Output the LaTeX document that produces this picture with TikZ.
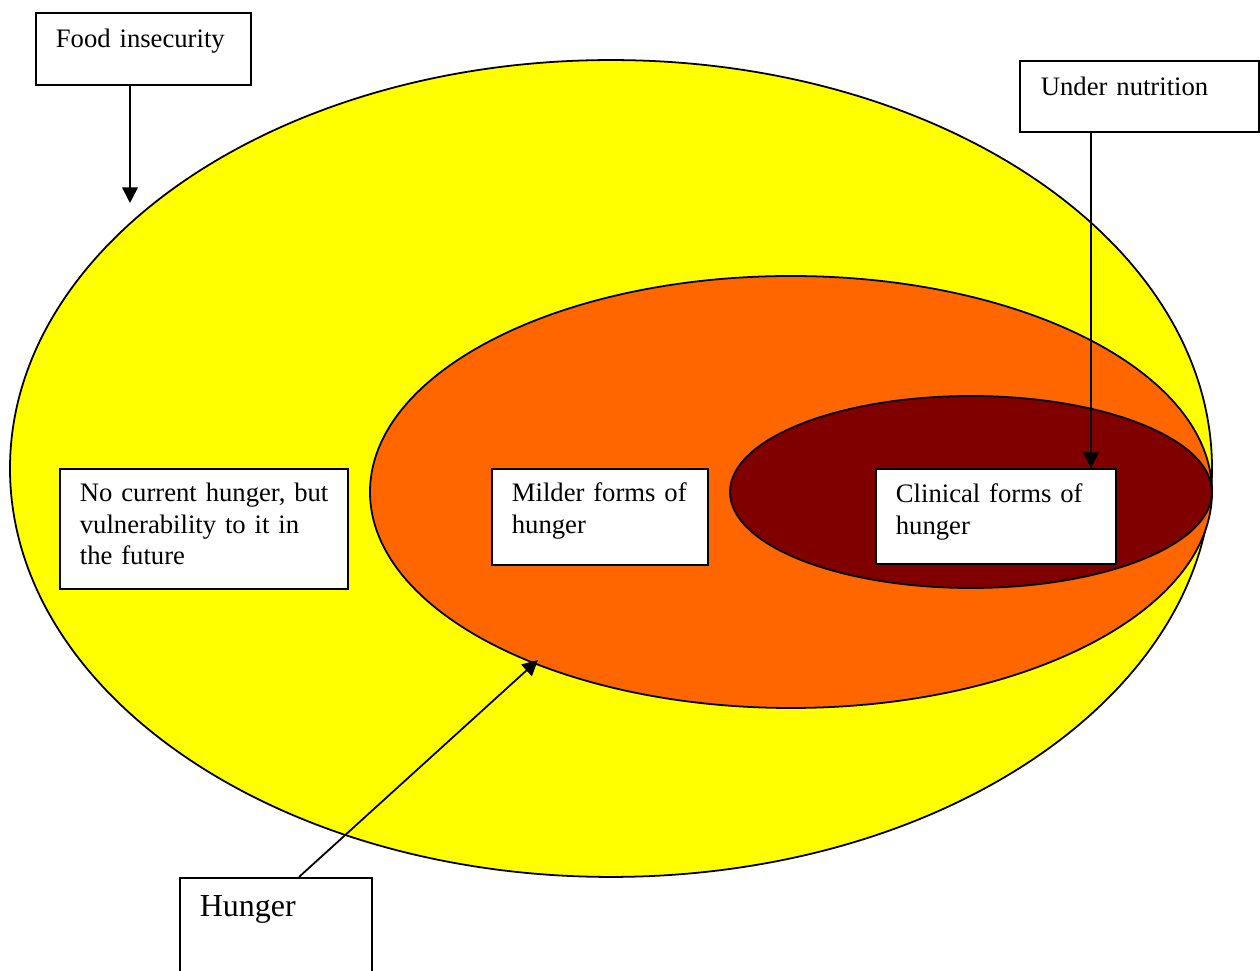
\documentclass[tikz,border=0pt]{standalone}
\usepackage{fontspec}
\setmainfont{Liberation Serif}
\usetikzlibrary{arrows.meta}
\definecolor{yel}{HTML}{FFFF00}
\definecolor{org}{HTML}{FF6600}
\definecolor{drk}{HTML}{800000}
\begin{document}
\begin{tikzpicture}[x=0.45pt,y=-0.45pt,
  line width=0.8pt,
  box/.style={draw=black,fill=white,rectangle,inner sep=0pt,anchor=north west},
  txt/.style={anchor=base west,inner sep=0pt,align=left,text width=130pt,font=\fontsize{12}{14}\selectfont},
  arr/.style={-{Triangle[length=7pt,width=7pt]}}]
\useasboundingbox (0,0) rectangle (1260,971);
\clip (0,0) rectangle (1260,971);
% ellipses
\draw[fill=yel] (611,468.5) ellipse [x radius=270.45pt, y radius=183.8pt];
\draw[fill=org] (791,492) ellipse [x radius=189.45pt, y radius=97.2pt];
\draw[fill=drk] (971,492) ellipse [x radius=108.45pt, y radius=43.2pt];
% boxes
\node[box,minimum width=96.75pt,minimum height=32.4pt] (fi) at (35,12) {};
\node[box,minimum width=107.55pt,minimum height=31.95pt] (un) at (1019,60) {};
\node[box,minimum width=129.6pt,minimum height=54pt] (nc) at (59,468) {};
\node[box,minimum width=97.2pt,minimum height=43.2pt] (mf) at (491,468) {};
\node[box,minimum width=108pt,minimum height=42.75pt] (cf) at (875,468) {};
\node[box,minimum width=86.4pt,minimum height=60pt] (hg) at (179,877) {};
% texts
\node[txt] (fit) at (55,48) {Food insecurity};
\node[txt] (unt) at (1040,96) {Under nutrition};
\node[txt] (nct) at (79,502) {No current hunger, but\\vulnerability to it in\\the future};
\node[txt] (mft) at (511,502) {Milder forms of\\hunger};
\node[txt] (cft) at (895,503) {Clinical forms of\\hunger};
\node[txt,font=\fontsize{14.4}{17}\selectfont] (hgt) at (199,917) {Hunger};
% connectors
\coordinate (fiTip) at (130,203);
\coordinate (unx) at (1091,0);
\coordinate (hgx) at (299,0);
\coordinate (hgTip) at (538,660);
\draw[arr] (fi.south -| fiTip) -- (fiTip);
\draw[arr] (un.south -| unx) -- (cf.north -| unx);
\draw[arr] (hg.north -| hgx) -- (hgTip);
\end{tikzpicture}
\end{document}
